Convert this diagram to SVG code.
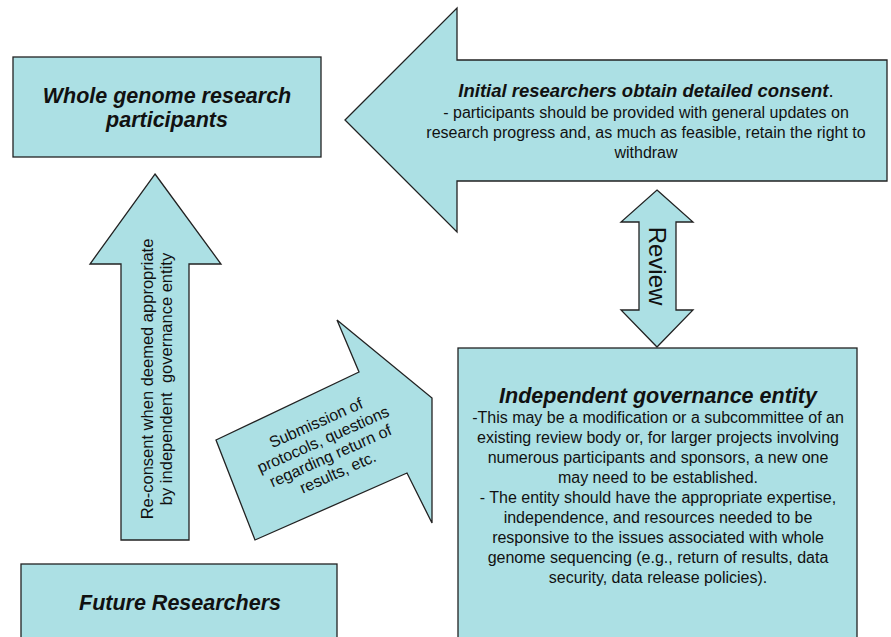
<svg xmlns="http://www.w3.org/2000/svg" width="891" height="637" viewBox="0 0 891 637">
<style>
.shape{fill:#ace0e4;stroke:#222;stroke-width:1.3;stroke-linejoin:miter}
.t{font-family:"Liberation Sans",Arial,sans-serif;fill:#111;text-anchor:middle}
.h{font-weight:bold;font-style:italic;font-size:21.5px}
.b{font-size:16px}
</style>
<rect width="891" height="637" fill="#fff"/>
<g id="connectors">
  <g id="consent-arrow">
    <polygon class="shape" points="345,120 457,8 457,60 887,60 887,181 457,181 457,232"/>
    <text class="t" x="646" y="97" style="font-weight:bold;font-style:italic;font-size:18.5px">Initial researchers obtain detailed consent<tspan style="font-weight:normal;font-style:normal">.</tspan></text>
    <text class="t b" x="646" y="118">- participants should be provided with general updates on</text>
    <text class="t b" x="646" y="138">research progress and, as much as feasible, retain the right to</text>
    <text class="t b" x="646" y="158">withdraw</text>
  </g>
  <g id="review-arrow">
    <polygon class="shape" points="657,190 693,222 676,222 676,310 693,310 657,347 621,310 639,310 639,222 621,222"/>
    <text class="t" transform="translate(649,266) rotate(90)" style="font-size:24px">Review</text>
  </g>
  <g id="reconsent-arrow">
    <polygon class="shape" points="155,174 221,264 189,264 189,540 121,540 121,264 90,264"/>
    <text class="t" transform="translate(153,379) rotate(-90)" style="font-size:16.5px">Re-consent when deemed appropriate</text>
    <text class="t" transform="translate(172,379) rotate(-90)" style="font-size:16.5px;white-space:pre" xml:space="preserve">by independent  governance entity</text>
  </g>
  <g id="submission-arrow">
    <polygon class="shape" points="216,440 359,372 337,320 432,398 432,523 407,473 255,540"/>
    <g transform="translate(327,448) rotate(-24)">
      <text class="t b" x="0" y="-22">Submission of</text>
      <text class="t b" x="0" y="-4">protocols, questions</text>
      <text class="t b" x="0" y="14">regarding return of</text>
      <text class="t b" x="0" y="32">results, etc.</text>
    </g>
  </g>
</g>
<g id="participants">
  <rect class="shape" x="13" y="57" width="308" height="100"/>
  <text class="t h" x="167" y="103">Whole genome research</text>
  <text class="t h" x="167" y="127">participants</text>
</g>
<g id="governance">
  <rect class="shape" x="458" y="348" width="399" height="300"/>
  <text class="t h" x="658" y="403">Independent governance entity</text>
  <text class="t b" x="658" y="423">-This may be a modification or a subcommittee of an</text>
  <text class="t b" x="658" y="443">existing review body or, for larger projects involving</text>
  <text class="t b" x="658" y="463">numerous participants and sponsors, a new one</text>
  <text class="t b" x="658" y="483">may need to be established.</text>
  <text class="t b" x="658" y="503">- The entity should have the appropriate expertise,</text>
  <text class="t b" x="658" y="523">independence, and resources needed to be</text>
  <text class="t b" x="658" y="543">responsive to the issues associated with whole</text>
  <text class="t b" x="658" y="563">genome sequencing (e.g., return of results, data</text>
  <text class="t b" x="658" y="583">security, data release policies).</text>
</g>
<g id="future">
  <rect class="shape" x="21" y="564" width="316" height="100"/>
  <text class="t h" x="180" y="610">Future Researchers</text>
</g>
</svg>
